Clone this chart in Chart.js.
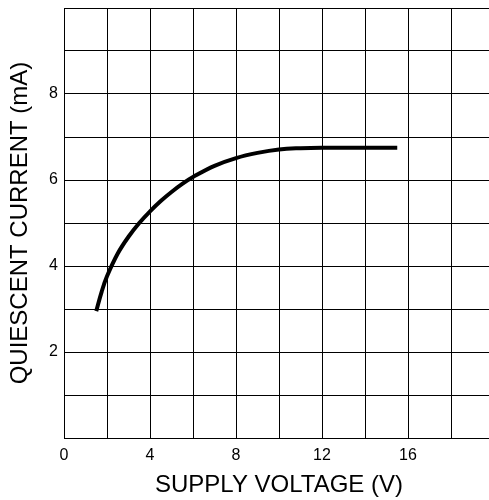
<!DOCTYPE html>
<html>
<head>
<meta charset="utf-8">
<script src="https://cdn.jsdelivr.net/npm/chart.js@4/dist/chart.umd.min.js"></script>
<style>
  html, body { margin: 0; padding: 0; background: #fff; overflow: hidden; }
  #wrap { width: 500px; height: 500px; }
</style>
</head>
<body>
<div id="wrap"><canvas id="grafica"></canvas></div>
<script>
// DATOS
const voltaje = [1.5, 1.75, 2.0, 2.5, 3.0, 3.5, 4.0, 4.5, 5.0, 5.5, 6.0, 7.0, 8.0, 9.0, 10.0, 11.0, 12.0, 15.5];
const corriente = [2.95, 3.4, 3.76, 4.29, 4.68, 5.0, 5.27, 5.51, 5.72, 5.91, 6.07, 6.33, 6.51, 6.63, 6.71, 6.74, 6.75, 6.75];
const xEtiquetas = [0, 4, 8, 12, 16];
const yEtiquetas = [2, 4, 6, 8];

const puntos = voltaje.map((v, i) => ({ x: v, y: corriente[i] }));

new Chart(document.getElementById("grafica"), {
    type: "scatter",
    data: {
        datasets: [{
            data: puntos,
            showLine: true,
            borderColor: "#000",
            borderWidth: 4,
            pointRadius: 0,
            tension: 0.4,
            fill: false
        }]
    },
    options: {
        responsive: true,
        maintainAspectRatio: false,
        animation: false,
        layout: { padding: { top: 8, right: 6, left: 0, bottom: 0 } },
        plugins: {
            legend: { display: false },
            tooltip: { enabled: false }
        },
        scales: {
            x: {
                type: "linear",
                min: 0,
                max: 20,
                grid: { color: "#000", lineWidth: 1, drawTicks: false },
                border: { color: "#000", width: 1 },
                ticks: {
                    stepSize: 2,
                    autoSkip: false,
                    maxRotation: 0,
                    padding: 8,
                    color: "#000",
                    font: { family: "Liberation Sans", size: 16 },
                    callback: v => xEtiquetas.includes(v) ? String(v) : ""
                },
                title: {
                    display: true,
                    text: "SUPPLY VOLTAGE (V)",
                    color: "#000",
                    font: { family: "Liberation Sans", size: 24 },
                    padding: { top: 8, bottom: 0 }
                },
                afterFit: s => { s.height = 62; s.paddingLeft = 0; s.paddingRight = 0; }
            },
            y: {
                type: "linear",
                min: 0,
                max: 10,
                grid: { color: "#000", lineWidth: 1, drawTicks: false },
                border: { color: "#000", width: 1 },
                ticks: {
                    stepSize: 1,
                    autoSkip: false,
                    padding: 6,
                    color: "#000",
                    font: { family: "Liberation Sans", size: 16 },
                    callback: v => yEtiquetas.includes(v) ? String(v) : ""
                },
                title: {
                    display: true,
                    text: "QUIESCENT CURRENT (mA)",
                    color: "#000",
                    font: { family: "Liberation Sans", size: 24 },
                    padding: { top: 6, bottom: 0 }
                },
                afterFit: s => { s.width = 64; s.paddingTop = 0; s.paddingBottom = 0; }
            }
        }
    }
});
</script>
</body>
</html>
